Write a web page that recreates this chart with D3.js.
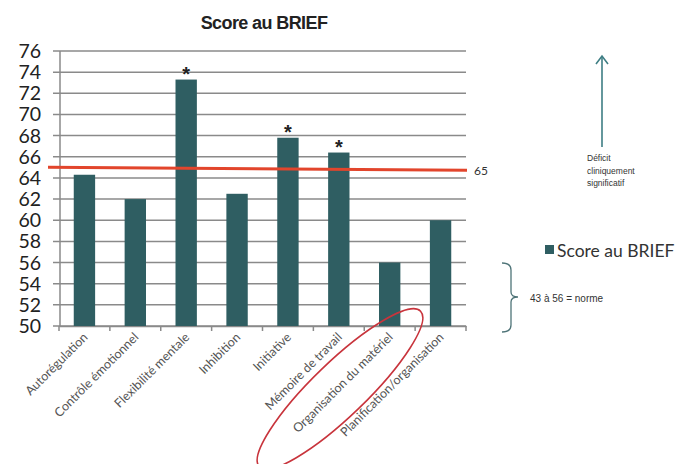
<!DOCTYPE html>
<html>
<head>
<meta charset="utf-8">
<script src="https://cdn.jsdelivr.net/npm/d3@7"></script>
<style>
  body { margin: 0; background: #fff; }
  svg { display: block; }
  .ylab { font-family: Lato, "Open Sans", sans-serif; font-size: 19.5px; fill: #222; }
  .xlab { font-family: Lato, "Open Sans", sans-serif; font-size: 12.5px; fill: #555; }
  .note { font-family: "Liberation Sans", Arial, sans-serif; fill: #333; }
</style>
</head>
<body>
<script>
// chart data
var categories = ["Autorégulation", "Contrôle émotionnel", "Flexibilité mentale", "Inhibition",
                  "Initiative", "Mémoire de travail", "Organisation du matériel", "Planification/organisation"]
var scores = [64.3, 62.0, 73.3, 62.5, 67.8, 66.4, 56.0, 60.0]
var starred = [false, false, true, false, true, true, false, false]
var yTicks = [50, 52, 54, 56, 58, 60, 62, 64, 66, 68, 70, 72, 74, 76]
var threshold = 65
var deficitText = ["Déficit", "cliniquement", "significatif"]
var normText = "43 à 56 = norme"
var seriesName = "Score au BRIEF"

var W = 676, H = 464
var barColor = "#2f5e62"

var svg = d3.select("body").append("svg")
  .attr("width", W)
  .attr("height", H)

var x = d3.scaleBand()
  .domain(categories)
  .range([59, 466])
  .paddingInner(0.58)
  .paddingOuter(0.29)

var y = d3.scaleLinear()
  .domain([50, 76])
  .range([326, 51])

// title
svg.append("text")
  .attr("x", 264)
  .attr("y", 29)
  .attr("text-anchor", "middle")
  .style("font-family", "'Liberation Sans', Arial, sans-serif")
  .style("font-weight", "bold")
  .style("font-size", "18px")
  .style("letter-spacing", "-0.6px")
  .attr("fill", "#222")
  .text("Score au BRIEF")

// grid lines
svg.append("g")
  .selectAll("line")
  .data(yTicks)
  .enter()
  .append("line")
  .attr("x1", 53)
  .attr("x2", 466)
  .attr("y1", function(d) { return y(d) })
  .attr("y2", function(d) { return y(d) })
  .attr("stroke", "#8a8a8a")
  .attr("stroke-width", 1.5)

// y axis line
svg.append("line")
  .attr("x1", 60).attr("x2", 60)
  .attr("y1", y(76)).attr("y2", y(50))
  .attr("stroke", "#8a8a8a")
  .attr("stroke-width", 1.5)

// y labels
svg.append("g")
  .selectAll("text")
  .data(yTicks)
  .enter()
  .append("text")
  .attr("class", "ylab")
  .attr("x", 41)
  .attr("y", function(d) { return y(d) + 7 })
  .attr("text-anchor", "end")
  .text(function(d) { return d })

// bottom axis
var xAxis = d3.axisBottom(x).tickSize(0).tickFormat("")
var gx = svg.append("g")
  .attr("transform", "translate(0," + y(50) + ")")
  .call(xAxis)
gx.select(".domain").attr("stroke", "#8a8a8a").attr("stroke-width", 1.5)

// tick marks between categories
var step = x.step()
var firstEdge = x(categories[0]) + x.bandwidth() / 2 - step / 2
svg.append("g")
  .selectAll("line")
  .data(d3.range(categories.length + 1))
  .enter()
  .append("line")
  .attr("x1", function(i) { return firstEdge + i * step })
  .attr("x2", function(i) { return firstEdge + i * step })
  .attr("y1", y(50))
  .attr("y2", y(50) + 5)
  .attr("stroke", "#8a8a8a")
  .attr("stroke-width", 1.5)

// bars
svg.append("g")
  .selectAll("rect")
  .data(scores)
  .enter()
  .append("rect")
  .attr("x", function(d, i) { return x(categories[i]) })
  .attr("width", x.bandwidth())
  .attr("y", function(d) { return y(d) })
  .attr("height", function(d) { return y(50) - y(d) })
  .attr("fill", barColor)

// asterisks
svg.append("g")
  .selectAll("text")
  .data(scores)
  .enter()
  .filter(function(d, i) { return starred[i] })
  .append("text")
  .attr("x", function(d) { var i = scores.indexOf(d); return x(categories[i]) + x.bandwidth() / 2 })
  .attr("y", function(d) { return y(d) + 1 })
  .attr("text-anchor", "middle")
  .style("font-family", "'Liberation Sans', Arial, sans-serif")
  .style("font-size", "20px")
  .style("font-weight", "bold")
  .attr("fill", "#222")
  .text("*")

// threshold line
svg.append("line")
  .attr("x1", 48).attr("x2", 467)
  .attr("y1", y(threshold)).attr("y2", y(threshold) + 3)
  .attr("stroke", "#e2452c")
  .attr("stroke-width", 3)
svg.append("text")
  .attr("x", 474)
  .attr("y", y(threshold) + 8)
  .style("font-family", "Lato, sans-serif")
  .style("font-size", "12px")
  .attr("fill", "#333")
  .text(threshold)

// x labels
svg.append("g")
  .selectAll("text")
  .data(categories)
  .enter()
  .append("text")
  .attr("class", "xlab")
  .attr("text-anchor", "end")
  .attr("transform", function(d) {
    return "translate(" + (x(d) + x.bandwidth() / 2 + 4) + "," + (y(50) + 12) + ") rotate(-45)"
  })
  .text(function(d) { return d })

// red ellipse around "Organisation du matériel"
svg.append("ellipse")
  .attr("transform", "translate(" + (x(categories[6]) - 39) + ",389) rotate(-44)")
  .attr("rx", 112)
  .attr("ry", 27)
  .attr("fill", "none")
  .attr("stroke", "#c8343c")
  .attr("stroke-width", 1.6)

// arrow
var arrowColor = "#3e7e84"
svg.append("line")
  .attr("x1", 602).attr("x2", 602)
  .attr("y1", 57).attr("y2", 147)
  .attr("stroke", arrowColor)
  .attr("stroke-width", 1.6)
svg.append("path")
  .attr("d", "M596,64 L602,56 L608,64")
  .attr("fill", "none")
  .attr("stroke", arrowColor)
  .attr("stroke-width", 1.6)

svg.append("g")
  .selectAll("text")
  .data(deficitText)
  .enter()
  .append("text")
  .attr("class", "note")
  .style("font-size", "8.5px")
  .attr("x", 587)
  .attr("y", function(d, i) { return 161 + i * 12.5 })
  .text(function(d) { return d })

// legend
svg.append("rect")
  .attr("x", 545).attr("y", 245)
  .attr("width", 9).attr("height", 9)
  .attr("fill", barColor)
svg.append("text")
  .attr("x", 557)
  .attr("y", 257)
  .style("font-family", "Lato, sans-serif")
  .style("font-size", "17.5px")
  .attr("fill", "#333")
  .text(seriesName)

// brace
svg.append("path")
  .attr("d", "M502,263 Q511,263 511,270 L511,292 Q511,297 518,297 Q511,297 511,302 L511,325 Q511,332 502,332")
  .attr("fill", "none")
  .attr("stroke", "#4f7478")
  .attr("stroke-width", 1.3)
svg.append("text")
  .attr("class", "note")
  .style("font-size", "10px")
  .attr("x", 530)
  .attr("y", 302)
  .text(normText)
</script>
</body>
</html>
